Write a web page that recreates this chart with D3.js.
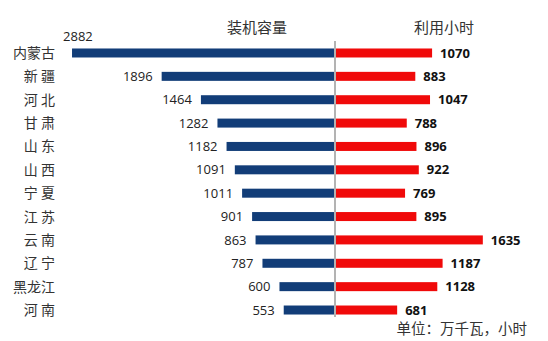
<!DOCTYPE html>
<html><head><meta charset="utf-8">
<script src="https://cdn.jsdelivr.net/npm/d3@7"></script>
<style>body{margin:0;background:#fff}svg{display:block}</style>
</head><body>
<script>
const provinces = ["内蒙古","新 疆","河 北","甘 肃","山 东","山 西","宁 夏","江 苏","云 南","辽 宁","黑龙江","河 南"];
const capacity = [2882,1896,1464,1282,1182,1091,1011,901,863,787,600,553];
const hours = [1070,883,1047,788,896,922,769,895,1635,1187,1128,681];
const headers = ["装机容量","利用小时"];
const unitNote = "单位：万千瓦，小时";

const W = 548, H = 341;
const svg = d3.select("body").append("svg").attr("width", W).attr("height", H);
const cjk = "'Noto Sans CJK SC','Noto Sans',sans-serif";
const num = "'Open Sans','Noto Sans',sans-serif";

const y = d3.scaleBand().domain(provinces).range([41.3, 321.7]).padding(0);
const xL = d3.scaleLinear().domain([0, 3000]).range([334, 61.3]);
const xR = d3.scaleLinear().domain([0, 2000]).range([336, 515.6]);
const bh = 9;

const rows = provinces.map((p, i) => ({p, c: capacity[i], h: hours[i]}));

svg.selectAll("rect.l").data(rows).join("rect")
  .attr("x", d => xL(d.c)).attr("width", d => xL(0) - xL(d.c))
  .attr("y", d => y(d.p) + y.bandwidth()/2 - bh/2).attr("height", bh)
  .attr("fill", "#123d78");
svg.selectAll("rect.r").data(rows).join("rect")
  .attr("x", xR(0)).attr("width", d => xR(d.h) - xR(0))
  .attr("y", d => y(d.p) + y.bandwidth()/2 - bh/2).attr("height", bh)
  .attr("fill", "#f00a0a");

svg.append("line").attr("x1", 335).attr("x2", 335).attr("y1", 41).attr("y2", 317)
  .attr("stroke", "#9a9a9a").attr("stroke-width", 1.5);

const yAxis = d3.axisLeft(y).tickSize(0).tickPadding(0);
const ga = svg.append("g").attr("transform", "translate(55,0)").call(yAxis);
ga.select(".domain").remove();
ga.selectAll("text").attr("font-family", cjk).attr("font-size", 14).attr("fill", "#333")
  .attr("dy", "0.36em").attr("text-anchor", "end").style("white-space", "pre");

svg.selectAll("text.lv").data(rows).join("text")
  .attr("x", d => xL(d.c) - 9)
  .attr("y", (d, i) => i === 0 ? y(d.p) + y.bandwidth()/2 - 17 : y(d.p) + y.bandwidth()/2)
  .attr("dy", "0.36em")
  .attr("text-anchor", (d, i) => i === 0 ? "start" : "end")
  .attr("font-family", num).attr("font-size", 13).attr("fill", "#222")
  .text(d => d.c);

svg.selectAll("text.rv").data(rows).join("text")
  .attr("x", d => xR(d.h) + 8)
  .attr("y", d => y(d.p) + y.bandwidth()/2)
  .attr("dy", "0.36em")
  .attr("font-family", num).attr("font-size", 13).attr("font-weight", "bold").attr("fill", "#111")
  .text(d => d.h);

svg.append("text").attr("x", 257).attr("y", 33).attr("text-anchor", "middle")
  .attr("font-family", cjk).attr("font-size", 15).attr("fill", "#333").text(headers[0]);
svg.append("text").attr("x", 444).attr("y", 33).attr("text-anchor", "middle")
  .attr("font-family", cjk).attr("font-size", 15).attr("fill", "#333").text(headers[1]);

svg.append("text").attr("x", 527).attr("y", 334).attr("text-anchor", "end")
  .attr("font-family", cjk).attr("font-size", 14.5).attr("fill", "#333").text(unitNote);
</script>
</body></html>
